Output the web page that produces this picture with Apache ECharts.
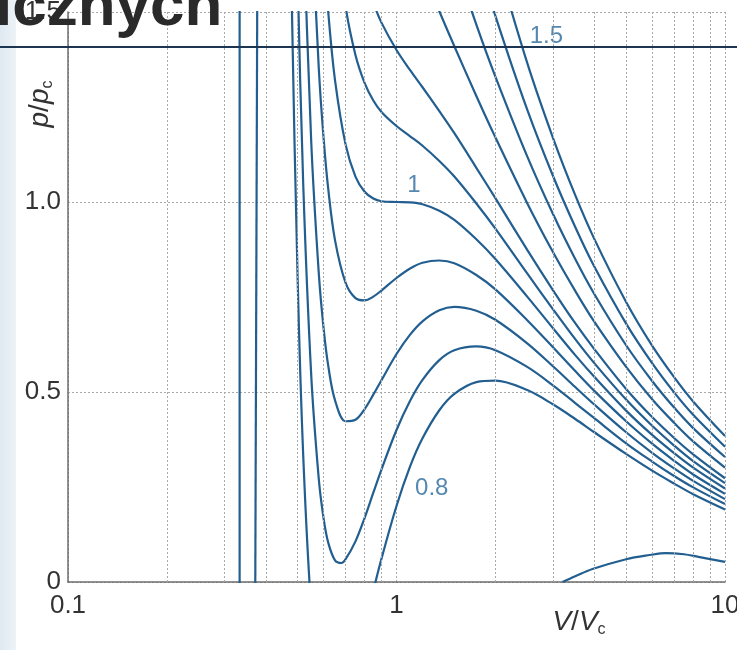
<!DOCTYPE html>
<html>
<head>
<meta charset="utf-8">
<script src="https://cdn.jsdelivr.net/npm/echarts@6/dist/echarts.min.js"></script>
<style>
html,body{margin:0;padding:0;background:#fff;}
#chart{width:737px;height:650px;}
</style>
</head>
<body>
<div id="chart"></div>
<script>
// Isotherms p/pc vs V/Vc
const iso080 = [[0.47,2.03],[0.48,1.525],[0.5,0.8],[0.52,0.334],[0.55,-0.071],[0.58,-0.27],[0.6,-0.333],[0.65,-0.364],[0.7,-0.304],[0.75,-0.213],[0.8,-0.116],[0.85,-0.023],[0.9,0.061],[1,0.2],[1.1,0.304],[1.2,0.378],[1.35,0.452],[1.5,0.495],[1.75,0.526],[2,0.53],[2.5,0.505],[3,0.467],[3.5,0.429],[4,0.394],[5,0.337],[6,0.293],[7,0.259],[8,0.231],[10,0.191]];
const iso085 = [[0.49,1.973],[0.5,1.6],[0.52,1.048],[0.55,0.545],[0.58,0.271],[0.6,0.167],[0.62,0.103],[0.65,0.057],[0.68,0.05],[0.7,0.06],[0.75,0.107],[0.8,0.169],[0.85,0.235],[0.9,0.296],[1,0.4],[1.1,0.477],[1.2,0.532],[1.35,0.584],[1.5,0.61],[1.75,0.62],[2,0.61],[2.5,0.566],[3,0.517],[3.5,0.471],[4,0.431],[5,0.365],[6,0.317],[7,0.279],[8,0.249],[10,0.205]];
const iso090 = [[0.51,2.05],[0.52,1.762],[0.55,1.16],[0.58,0.812],[0.6,0.667],[0.62,0.568],[0.65,0.478],[0.7,0.423],[0.75,0.427],[0.8,0.455],[0.85,0.493],[0.9,0.531],[1,0.6],[1.1,0.651],[1.2,0.686],[1.35,0.715],[1.5,0.724],[1.75,0.714],[2,0.69],[2.5,0.628],[3,0.567],[3.5,0.513],[4,0.467],[5,0.394],[6,0.34],[7,0.299],[8,0.266],[10,0.218]];
const iso095 = [[0.54,1.97],[0.55,1.775],[0.58,1.352],[0.6,1.167],[0.62,1.033],[0.65,0.899],[0.7,0.787],[0.75,0.747],[0.8,0.741],[0.85,0.751],[0.9,0.767],[1,0.8],[1.1,0.825],[1.2,0.84],[1.35,0.846],[1.5,0.839],[1.75,0.808],[2,0.77],[2.5,0.689],[3,0.617],[3.5,0.555],[4,0.503],[5,0.423],[6,0.364],[7,0.319],[8,0.283],[10,0.232]];
const iso100 = [[0.58,1.893],[0.6,1.667],[0.62,1.498],[0.65,1.32],[0.7,1.151],[0.75,1.067],[0.8,1.027],[0.85,1.009],[0.9,1.002],[1,1],[1.1,0.999],[1.2,0.994],[1.35,0.977],[1.5,0.953],[1.75,0.902],[2,0.85],[2.5,0.751],[3,0.667],[3.5,0.597],[4,0.54],[5,0.451],[6,0.387],[7,0.339],[8,0.301],[10,0.246]];
const iso105 = [[0.62,1.963],[0.65,1.741],[0.7,1.514],[0.75,1.387],[0.8,1.313],[0.85,1.267],[0.9,1.237],[1,1.2],[1.1,1.173],[1.2,1.148],[1.35,1.108],[1.5,1.067],[1.75,0.996],[2,0.93],[2.5,0.812],[3,0.717],[3.5,0.639],[4,0.576],[5,0.48],[6,0.411],[7,0.359],[8,0.318],[10,0.26]];
const iso110 = [[0.7,1.878],[0.75,1.707],[0.8,1.598],[0.85,1.525],[0.9,1.472],[1,1.4],[1.1,1.347],[1.2,1.302],[1.35,1.239],[1.5,1.181],[1.75,1.09],[2,1.01],[2.5,0.874],[3,0.767],[3.5,0.681],[4,0.613],[5,0.508],[6,0.434],[7,0.379],[8,0.336],[10,0.273]];
const iso120 = [[1,1.8],[1.1,1.695],[1.2,1.609],[1.35,1.502],[1.5,1.41],[1.75,1.279],[2,1.17],[2.5,0.997],[3,0.867],[3.5,0.766],[4,0.685],[5,0.566],[6,0.481],[7,0.419],[8,0.37],[10,0.301]];
const iso130 = [[1.2,1.917],[1.35,1.764],[1.5,1.638],[1.75,1.467],[2,1.33],[2.5,1.12],[3,0.967],[3.5,0.85],[4,0.758],[5,0.623],[6,0.529],[7,0.459],[8,0.405],[10,0.329]];
const iso140 = [[1.5,1.867],[1.75,1.655],[2,1.49],[2.5,1.243],[3,1.067],[3.5,0.934],[4,0.83],[5,0.68],[6,0.576],[7,0.499],[8,0.44],[10,0.356]];
const iso150 = [[1.75,1.844],[2,1.65],[2.5,1.366],[3,1.167],[3.5,1.018],[4,0.903],[5,0.737],[6,0.622],[7,0.539],[8,0.475],[10,0.384]];
const isoLowA = [[0.333,1.6],[0.333,-0.05]];
const isoLowBLiquid = [[0.377,1.6],[0.3715,-0.05]];
const isoLowBGas = [[3.2,0],[3.5,0.015],[3.95,0.034],[5,0.06],[5.9,0.071],[6.6,0.076],[7.5,0.073],[8.3,0.066],[10,0.053]];

const curveLabelTexts = ['1', '0.8', '1.5'];
const curveLabelPos = [[1.13,1.045],[1.28,0.247],[2.86,1.437]];

const minorV = [0.2,0.3,0.4,0.5,0.6,0.7,0.8,0.9,2,3,4,5,6,7,8,9];
const xTicks = [0.1, 1, 10];
const yTicks = [0, 0.5, 1.0, 1.5];

const LINE = '#225f90';
const FONT = '"Liberation Sans", Arial, sans-serif';

const curves = [iso080, iso085, iso090, iso095, iso100, iso105, iso110, iso120, iso130, iso140, iso150, isoLowA, isoLowBLiquid, isoLowBGas];

const series = [];
series.push({
  type: 'line', data: [], silent: true, z: 1,
  markLine: {
    silent: true, symbol: ['none','none'], label: {show:false},
    lineStyle: {type: [2,2], color: '#a9a9a9', width: 1},
    data: minorV.map(v => ({xAxis: v}))
  }
});
curves.forEach((c, i) => {
  series.push({
    type: 'line', data: c, showSymbol: false, symbol: 'none',
    smooth: c.length > 3 ? 0.35 : false, clip: true, z: 3,
    lineStyle: {color: LINE, width: 2.2}
  });
});
series.push({
  type: 'scatter', symbolSize: 0, z: 4, silent: true,
  data: curveLabelPos.map((p, i) => ({value: p, name: curveLabelTexts[i]})),
  label: {show: true, position: 'inside', formatter: p => p.name,
    color: '#2a6a9c', fontSize: 24, fontFamily: FONT}
});

const chart = echarts.init(document.getElementById('chart'), null, {renderer: 'canvas'});
chart.setOption({
  animation: false,
  backgroundColor: '#ffffff',
  grid: {left: 68, right: 12, top: 12, bottom: 68, containLabel: false, outerBoundsMode: 'none'},
  xAxis: {
    type: 'log', logBase: 10, min: xTicks[0], max: xTicks[xTicks.length-1],
    axisLine: {show: true, onZero: false, lineStyle: {color: '#6e6e6e', width: 1.5}},
    axisTick: {show: false},
    axisLabel: {color: '#333', fontSize: 26, fontFamily: FONT, margin: 11,
      formatter: v => String(v)},
    splitLine: {show: true, lineStyle: {type: [2,2], color: '#a9a9a9', width: 1}}
  },
  yAxis: {
    type: 'value', min: yTicks[0], max: yTicks[yTicks.length-1], interval: 0.5,
    axisLine: {show: true, lineStyle: {color: '#6e6e6e', width: 1.5}},
    axisTick: {show: false},
    axisLabel: {color: '#333', fontSize: 26, fontFamily: FONT, margin: 7,
      formatter: v => v === 0 ? '0' : v.toFixed(1)},
    splitLine: {show: true, lineStyle: {type: [2,2], color: '#a9a9a9', width: 1}}
  },
  graphic: [
    {type: 'rect', z: -5, shape: {x: 0, y: 0, width: 16, height: 650},
      style: {fill: new echarts.graphic.LinearGradient(0,0,1,0,[{offset:0,color:'#dfe9f1'},{offset:1,color:'#edf3f7'}])}},
    {type: 'text', z: 100, x: 40, y: 104, rotation: Math.PI/2,
      style: {text: '{i|p}{n|/}{i|p}{s|c}', align: 'center', verticalAlign: 'middle',
        rich: {
          i: {fontStyle: 'italic', fontSize: 28, fontFamily: FONT, fill: '#333', lineHeight: 32},
          n: {fontSize: 28, fontFamily: FONT, fill: '#333', lineHeight: 32},
          s: {fontSize: 16, fontFamily: FONT, fill: '#333', lineHeight: 16, verticalAlign: 'bottom'}
        }}},
    {type: 'text', z: 100, x: 579, y: 622,
      style: {text: '{i|V}{n|/}{i|V}{s|c}', align: 'center', verticalAlign: 'middle',
        rich: {
          i: {fontStyle: 'italic', fontSize: 28, fontFamily: FONT, fill: '#333', lineHeight: 32},
          n: {fontSize: 28, fontFamily: FONT, fill: '#333', lineHeight: 32},
          s: {fontSize: 16, fontFamily: FONT, fill: '#333', lineHeight: 16, verticalAlign: 'bottom'}
        }}},
    {type: 'text', z: 100, x: -5, y: 8,
      style: {text: 'icznych', font: 'bold 62px ' + FONT, fill: '#2a2a2a', align: 'left', verticalAlign: 'middle'}},
    {type: 'line', z: 100, shape: {x1: 0, y1: 47, x2: 737, y2: 47},
      style: {stroke: '#1c3552', lineWidth: 2}}
  ],
  series: series
});
</script>
</body>
</html>
